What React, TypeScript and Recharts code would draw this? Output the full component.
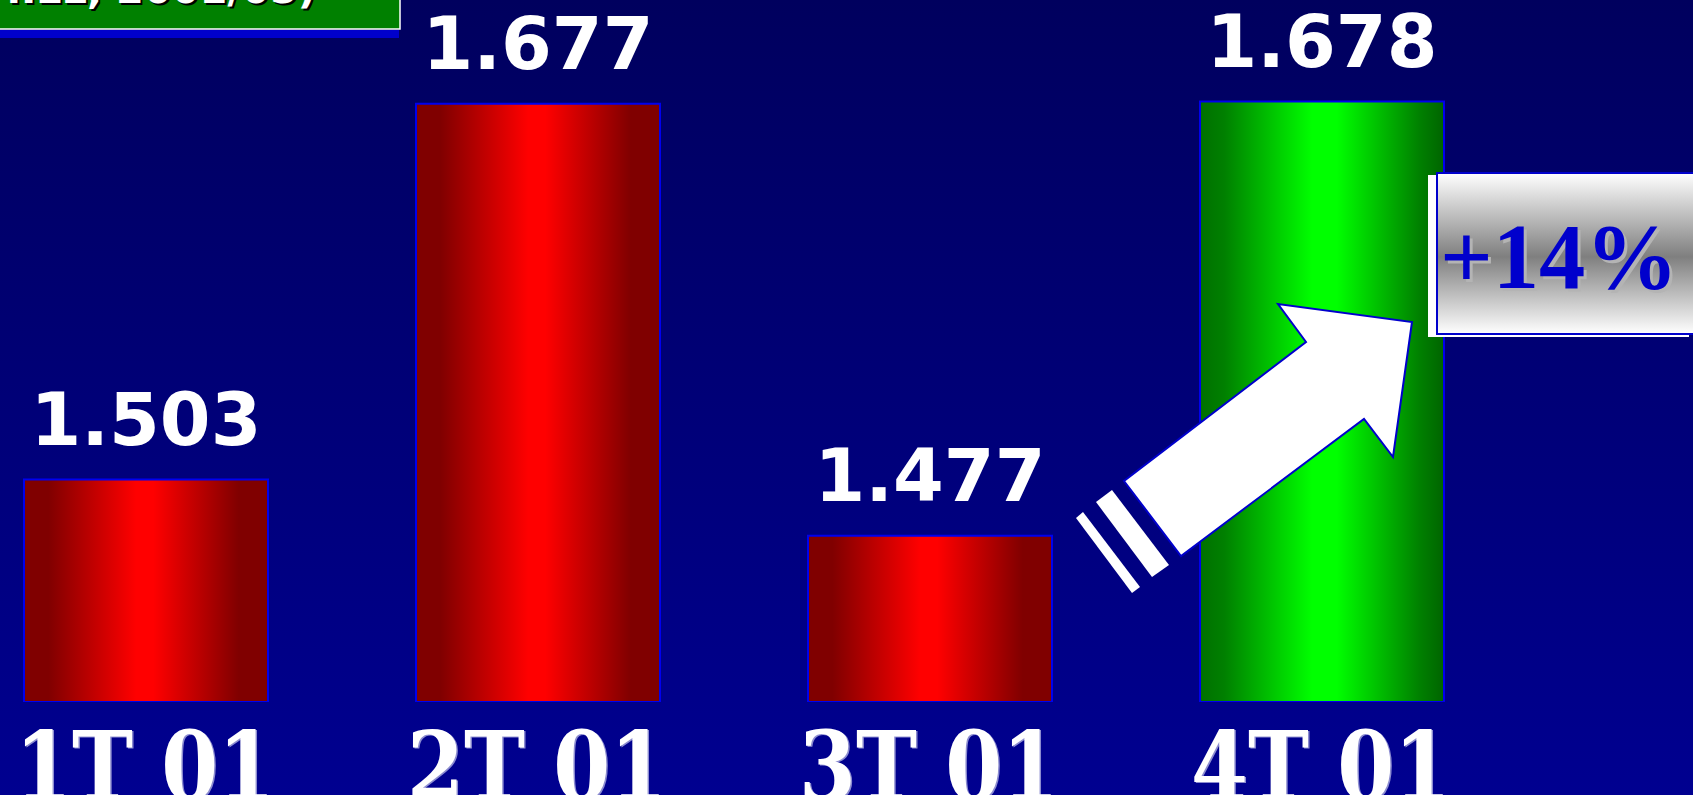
import { Bar, BarChart, Cell, LabelList, XAxis, YAxis } from 'recharts';

const categories = ['1T 01', '2T 01', '3T 01', '4T 01'];
const values = [1.503, 1.677, 1.477, 1.678];
const valueLabels = ['1.503', '1.677', '1.477', '1.678'];
const highlight = [false, false, false, true];
const yDomain: [number, number] = [1.4, 1.725];

const data = categories.map((cat, i) => ({
  cat,
  value: values[i],
  label: valueLabels[i],
  hi: highlight[i],
}));

const W = 1693;
const H = 795;

function ValueLabel(props: any) {
  const { x, y, width, index } = props;
  return (
    <text
      x={Number(x) + Number(width) / 2}
      y={Number(y) - 35}
      textAnchor="middle"
      fill="#ffffff"
      fontFamily="'DejaVu Sans', sans-serif"
      fontWeight="bold"
      fontSize={73}
    >
      {valueLabels[index]}
    </text>
  );
}

function CatTick(props: any) {
  const { x, y, payload } = props;
  const common = {
    textAnchor: 'middle' as const,
    fontFamily: "'DejaVu Serif', serif",
    fontWeight: 'bold',
    fontSize: 95,
    textLength: 260,
    lengthAdjust: 'spacingAndGlyphs' as const,
  };
  return (
    <g>
      <text x={x + 0.5} y={y + 91} fill="#8c8cd0" {...common}>
        {payload.value}
      </text>
      <text x={x - 1} y={y + 90} fill="#ffffff" {...common}>
        {payload.value}
      </text>
    </g>
  );
}

export default function App() {
  return (
    <div
      style={{
        position: 'relative',
        width: W,
        height: H,
        overflow: 'hidden',
        background: 'linear-gradient(to bottom, #00005e 0%, #000090 100%)',
      }}
    >
      <style>{'body{margin:0}'}</style>
      <BarChart
        width={W}
        height={H}
        data={data}
        margin={{ top: 0, right: 175, bottom: 0, left: -50 }}
        style={{ position: 'absolute', left: 0, top: 0 }}
      >
        <defs>
          <linearGradient id="redBar" x1="0" y1="0" x2="1" y2="0">
            <stop offset="0" stopColor="#800000" />
            <stop offset="0.1" stopColor="#800000" />
            <stop offset="0.46" stopColor="#ff0000" />
            <stop offset="0.53" stopColor="#ff0000" />
            <stop offset="0.88" stopColor="#800000" />
            <stop offset="1" stopColor="#800000" />
          </linearGradient>
          <linearGradient id="greenBar" x1="0" y1="0" x2="1" y2="0">
            <stop offset="0" stopColor="#007000" />
            <stop offset="0.1" stopColor="#008000" />
            <stop offset="0.46" stopColor="#00ff00" />
            <stop offset="0.56" stopColor="#00ff00" />
            <stop offset="0.9" stopColor="#008000" />
            <stop offset="1" stopColor="#006400" />
          </linearGradient>
        </defs>
        <XAxis
          dataKey="cat"
          axisLine={false}
          tickLine={false}
          height={93}
          interval={0}
          tick={<CatTick />}
        />
        <YAxis hide domain={yDomain} allowDataOverflow />
        <Bar dataKey="value" barSize={244} isAnimationActive={false} stroke="#0000ee" strokeWidth={2}>
          {data.map((d) => (
            <Cell key={d.cat} fill={d.hi ? 'url(#greenBar)' : 'url(#redBar)'} />
          ))}
          <LabelList dataKey="label" content={<ValueLabel />} />
        </Bar>
      </BarChart>

      <svg
        width={W}
        height={H}
        style={{ position: 'absolute', left: 0, top: 0, pointerEvents: 'none' }}
      >
        <defs>
          <linearGradient id="boxGrad" x1="0" y1="0" x2="0" y2="1">
            <stop offset="0" stopColor="#ffffff" />
            <stop offset="0.52" stopColor="#7f7f7f" />
            <stop offset="1" stopColor="#ffffff" />
          </linearGradient>
        </defs>

        {/* title box, top-left, mostly off screen */}
        <rect x={0} y={30} width={399} height={8} fill="#0000cc" />
        <rect x={-2} y={-40} width={402} height={69} fill="#008000" stroke="#ffffff" strokeWidth={1.5} />
        <text
          x={318}
          y={5}
          textAnchor="end"
          fill="#000000"
          fontFamily="'DejaVu Sans', sans-serif"
          fontWeight="bold"
          fontSize={40}
        >
          (MILL, 2001/05)
        </text>
        <text
          x={316}
          y={3}
          textAnchor="end"
          fill="#ffffff"
          fontFamily="'DejaVu Sans', sans-serif"
          fontWeight="bold"
          fontSize={40}
        >
          (MILL, 2001/05)
        </text>

        {/* arrow */}
        <polygon
          points="1412,322 1393,457 1364,419 1181,556 1124,481 1306,342 1278,304"
          fill="#ffffff"
          stroke="#0000cc"
          strokeWidth={2}
          strokeLinejoin="miter"
        />
        <polygon points="1096,502 1112,490 1169,565 1152,577" fill="#ffffff" />
        <polygon points="1076,518 1083,512 1140,587 1132,593" fill="#ffffff" />

        {/* +14% box */}
        <rect x={1428} y={175} width={261} height={162} fill="#ffffff" />
        <rect x={1437} y={173} width={262} height={161} fill="url(#boxGrad)" stroke="#0000cc" strokeWidth={2} />
        <text
          x={1443}
          y={291}
          fill="#b4b4b4"
          fontFamily="'Liberation Serif', serif"
          fontWeight="bold"
          fontSize={94}
          textLength={238}
          lengthAdjust="spacingAndGlyphs"
        >
          +14%
        </text>
        <text
          x={1440}
          y={288}
          fill="#0000cc"
          fontFamily="'Liberation Serif', serif"
          fontWeight="bold"
          fontSize={94}
          textLength={238}
          lengthAdjust="spacingAndGlyphs"
        >
          +14%
        </text>
      </svg>
    </div>
  );
}
